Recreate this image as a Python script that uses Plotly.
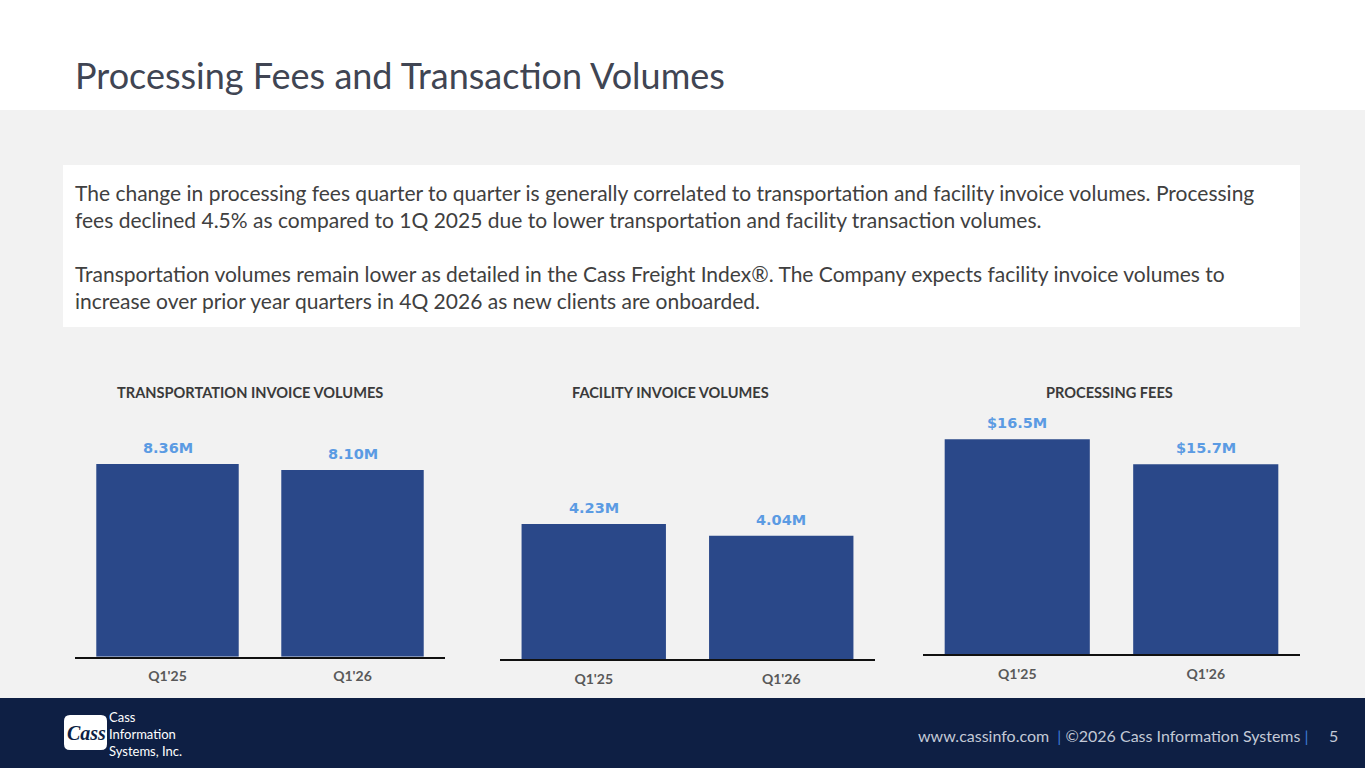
import plotly.graph_objects as go

W, H = 1365, 768

# ---- data ----
categories = ["Q1'25", "Q1'26"]
transport_vol = [8.36, 8.10]
transport_lbl = ["8.36M", "8.10M"]
facility_vol = [4.23, 4.04]
facility_lbl = ["4.23M", "4.04M"]
fees = [16.5, 15.7]
fees_lbl = ["$16.5M", "$15.7M"]
chart_titles = ["TRANSPORTATION INVOICE VOLUMES", "FACILITY INVOICE VOLUMES", "PROCESSING FEES"]

title = "Processing Fees and Transaction Volumes"
body_lines = [
    "The change in processing fees quarter to quarter is generally correlated to transportation and facility invoice volumes. Processing",
    "fees declined 4.5% as compared to 1Q 2025 due to lower transportation and facility transaction volumes.",
    "Transportation volumes remain lower as detailed in the Cass Freight Index®. The Company expects facility invoice volumes to",
    "increase over prior year quarters in 4Q 2026 as new clients are onboarded.",
]
body_y = [193, 220, 274, 301]
logo_text = "Cass<br>Information<br>Systems, Inc."


def px(x):
    return x / W


def py(y):
    return 1 - y / H


BAR = "#2a4889"
LBL = "#5b9be3"
FONT = "Lato"

fig = go.Figure()

# geometry per chart: (x0, x1, top, baseline, yrange)
charts = [
    (75, 445, 400, 656.7, [0, (656.7 - 400) / 23.05], transport_vol, transport_lbl, 250),
    (500, 875, 400, 659, [2.04, 2.04 + 259 / 61.6], facility_vol, facility_lbl, 670),
    (923, 1300, 400, 654.3, [9.62, 9.62 + 254.3 / 31.25], fees, fees_lbl, 1109),
]

annotations = []
for i, (x0, x1, top, base, yr, vals, lbls, tx) in enumerate(charts):
    n = "" if i == 0 else str(i + 1)
    fig.add_trace(go.Bar(x=categories, y=vals, marker=dict(color=BAR, line=dict(width=0)),
                         xaxis="x" + n, yaxis="y" + n, hoverinfo="skip", showlegend=False))
    fig.update_layout(**{
        "xaxis" + n: dict(domain=[px(x0), px(x1)], anchor="y" + n, showline=True, linecolor="#111111",
                          linewidth=1.5, showgrid=False, zeroline=False, ticks="outside", ticklen=6,
                          tickcolor="rgba(0,0,0,0)",
                          tickfont=dict(family=FONT, size=14, color="#595959", weight="bold"),
                          fixedrange=True),
        "yaxis" + n: dict(domain=[py(base), py(top)], anchor="x" + n, range=yr, visible=False,
                          showgrid=False, zeroline=False, fixedrange=True),
    })
    for c, v, l in zip(categories, vals, lbls):
        annotations.append(dict(x=c, y=v, xref="x" + n, yref="y" + n, text=l, showarrow=False,
                                yanchor="bottom", yshift=6,
                                font=dict(family="DejaVu Sans", size=14.5, color=LBL, weight="bold")))
    annotations.append(dict(x=px(tx), y=py(392), xref="paper", yref="paper", text=chart_titles[i],
                            showarrow=False, xanchor="center", yanchor="middle",
                            font=dict(family=FONT, size=14.6, color="#3a3a3a", weight="bold")))

annotations.append(dict(x=px(73), y=py(75), xref="paper", yref="paper", text=title, showarrow=False,
                        xanchor="left", yanchor="middle",
                        font=dict(family=FONT, size=36, color="#404553")))
for t, yy in zip(body_lines, body_y):
    annotations.append(dict(x=px(73), y=py(yy), xref="paper", yref="paper", text=t, showarrow=False,
                            xanchor="left", yanchor="middle",
                            font=dict(family=FONT, size=21, color="#404040")))

# footer text
annotations.append(dict(x=px(1340), y=py(735), xref="paper", yref="paper",
                        text="www.cassinfo.com  <span style='color:#3d7ad6'>|</span> ©2026 Cass Information Systems "
                             "<span style='color:#3d7ad6'>|</span>     5",
                        showarrow=False, xanchor="right", yanchor="middle",
                        font=dict(family=FONT, size=16, color="#c3c9d6")))
# logo text
annotations.append(dict(x=px(86), y=py(733), xref="paper", yref="paper", text="<i><b>Cass</b></i>",
                        showarrow=False, xanchor="center", yanchor="middle",
                        font=dict(family="Liberation Serif", size=20, color="#0e1f44")))
annotations.append(dict(x=px(108), y=py(734), xref="paper", yref="paper", text=logo_text,
                        showarrow=False, xanchor="left", yanchor="middle", align="left",
                        borderpad=0,
                        font=dict(family=FONT, size=13, color="white")))

# logo badge rounded rect path (paper coords)
lx0, lx1, ly0, ly1, r = 64, 107, 715, 750, 6
path = (f"M {px(lx0 + r)},{py(ly0)} L {px(lx1 - r)},{py(ly0)} "
        f"Q {px(lx1)},{py(ly0)} {px(lx1)},{py(ly0 + r)} L {px(lx1)},{py(ly1 - r)} "
        f"Q {px(lx1)},{py(ly1)} {px(lx1 - r)},{py(ly1)} L {px(lx0 + r)},{py(ly1)} "
        f"Q {px(lx0)},{py(ly1)} {px(lx0)},{py(ly1 - r)} L {px(lx0)},{py(ly0 + r)} "
        f"Q {px(lx0)},{py(ly0)} {px(lx0 + r)},{py(ly0)} Z")

shapes = [
    dict(type="rect", xref="paper", yref="paper", x0=0, x1=1, y0=py(698), y1=py(110),
         fillcolor="#f2f2f2", line=dict(width=0), layer="below"),
    dict(type="rect", xref="paper", yref="paper", x0=px(63), x1=px(1300), y0=py(327), y1=py(165),
         fillcolor="white", line=dict(width=0), layer="below"),
    dict(type="rect", xref="paper", yref="paper", x0=0, x1=1, y0=0, y1=py(698),
         fillcolor="#0e1f44", line=dict(width=0), layer="below"),
    dict(type="path", xref="paper", yref="paper", path=path, fillcolor="white",
         line=dict(width=0), layer="below"),
]

fig.update_layout(
    width=W, height=H, margin=dict(l=0, r=0, t=0, b=0),
    paper_bgcolor="white", plot_bgcolor="rgba(0,0,0,0)",
    bargap=0.23, annotations=annotations, shapes=shapes,
    showlegend=False,
)

fig.write_html("out.html", config={"displayModeBar": False})
